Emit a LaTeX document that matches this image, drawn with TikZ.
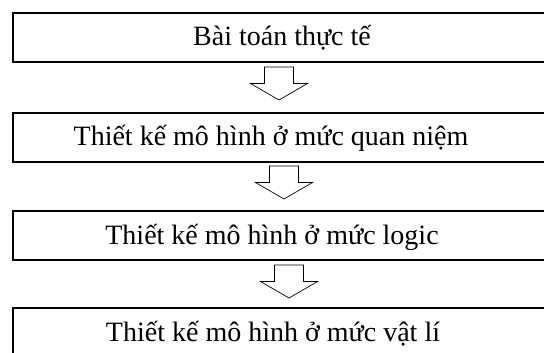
\documentclass[tikz,border=0pt]{standalone}
\usepackage{fontspec}
\setmainfont{Liberation Serif}
\usetikzlibrary{positioning}

\tikzset{
  stage/.style={draw,line width=1.6pt,minimum width=560pt,minimum height=49pt,
    anchor=north west,inner sep=0pt},
  caption/.style={anchor=base,font=\fontsize{28}{32}\selectfont,inner sep=0pt},
  % hollow block arrow, tip at the origin
  down arrow/.pic={
    \draw[line width=.7pt,fill=white] (0,0) -- (-28.5,-16.5) -- (-14.5,-16.5)
      -- (-14.5,-33) -- (14.5,-33) -- (14.5,-16.5) -- (28.5,-16.5) -- cycle;
  }
}

\begin{document}
\begin{tikzpicture}[x=1pt,y=-1pt]
 \useasboundingbox (0,0) rectangle (544,353);
 \clip (0,0) rectangle (544,353);
 % the four stages
 \node[stage] (problem) at (12,12) {};
 \node[stage] (concept) at (12,112) {};
 \node[stage] (logic) at (12,210) {};
 \node[stage] (physical) at (12,307) {};
 \node[caption] (tproblem) at (282,46) {Bài toán thực tế};
 \node[caption] (tconcept) at (271,145) {Thiết kế mô hình ở mức quan niệm};
 \node[caption] (tlogic) at (272,244.5) {Thiết kế mô hình ở mức logic};
 \node[caption] (tphysical) at (273,341) {Thiết kế mô hình ở mức vật lí};
 % arrows between stages
 \coordinate (a1) at (279,100);
 \coordinate (a2) at (284,199);
 \coordinate (a3) at (289,298);
 \pic at (a1) {down arrow};
 \pic at (a2) {down arrow};
 \pic at (a3) {down arrow};
\end{tikzpicture}
\end{document}
